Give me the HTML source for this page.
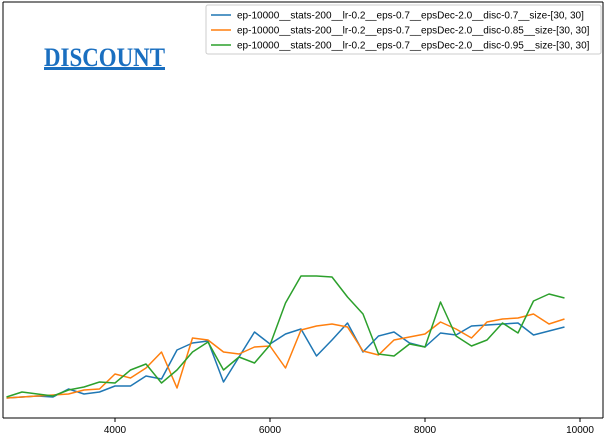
<!DOCTYPE html>
<html><head><meta charset="utf-8"><style>
html,body{margin:0;padding:0;background:#fff;}
svg{display:block;font-family:"Liberation Sans","DejaVu Sans",sans-serif;}
</style></head><body>
<svg id="chart" width="604" height="436" viewBox="0 0 604 436" xmlns="http://www.w3.org/2000/svg">
<rect x="0" y="0" width="604" height="436" fill="#fff"/>
<g id="series"></g>
<g fill="none" stroke="#000" stroke-width="1">
<line x1="3" y1="2" x2="3" y2="418"/>
<line x1="603" y1="2" x2="603" y2="418"/>
<line x1="3" y1="2" x2="603" y2="2"/>
<line x1="3" y1="418" x2="603" y2="418"/>
</g>
<g id="xticks"></g>
<g>
<text x="44" y="66" fill="#1a6fc0" font-family="Liberation Serif, serif" font-weight="bold" font-size="26" textLength="121" lengthAdjust="spacingAndGlyphs">DISCOUNT</text>
<rect x="44" y="67" width="121" height="3" fill="#1a6fc0"/>
</g>
<g id="legend">
<rect x="206" y="5" width="395" height="49" rx="2" fill="#fff" stroke="#ccc" stroke-width="1"/>
</g>
</svg>
<script>
const xValues=[2600,2800,3000,3200,3400,3600,3800,4000,4200,4400,4600,4800,5000,5200,5400,5600,5800,6000,6200,6400,6600,6800,7000,7200,7400,7600,7800,8000,8200,8400,8600,8800,9000,9200,9400,9600,9800];
const disc07=[20,21,22,21,29,24,26,32,32,42,39,68,75,77,36,61,86,74,84,89,62,78,95,66,82,86,75,71,85,83,92,93,94,95,83,87,91];
const disc085=[20,21,22,23,24,28,29,44,40,50,66,30,80,78,66,64,71,72,50,88,92,94,91,67,63,78,81,84,96,89,80,96,99,100,104,94,99];
const disc095=[21,26,24,22,28,31,36,35,48,54,35,48,66,76,48,61,55,73,115,142,142,141,121,104,64,62,74,71,116,82,72,78,95,85,117,124,120];
const xTicks=[4000,6000,8000,10000];
const seriesNames=["ep-10000__stats-200__lr-0.2__eps-0.7__epsDec-2.0__disc-0.7__size-[30, 30]","ep-10000__stats-200__lr-0.2__eps-0.7__epsDec-2.0__disc-0.85__size-[30, 30]","ep-10000__stats-200__lr-0.2__eps-0.7__epsDec-2.0__disc-0.95__size-[30, 30]"];
const colors=["#1f77b4","#ff7f0e","#2ca02c"];
const NS="http://www.w3.org/2000/svg";
function xs(v){return 115+(v-4000)*0.0775;}
function ys(v){return 418-v;}
const series=[disc07,disc085,disc095];
const sg=document.getElementById('series');
series.forEach((s,i)=>{
  const p=document.createElementNS(NS,'polyline');
  p.setAttribute('points',s.map((v,j)=>xs(xValues[j]).toFixed(1)+','+ys(v).toFixed(1)).join(' '));
  p.setAttribute('fill','none');p.setAttribute('stroke',colors[i]);p.setAttribute('stroke-width','1.5');
  p.setAttribute('stroke-linejoin','round');
  
  
  sg.appendChild(p);
});
const xg=document.getElementById('xticks');
xTicks.forEach(t=>{
  const x=xs(t);
  const l=document.createElementNS(NS,'line');
  l.setAttribute('x1',x);l.setAttribute('x2',x);l.setAttribute('y1',418);l.setAttribute('y2',422);l.setAttribute('stroke','#000');
  
  
  xg.appendChild(l);
  const tx=document.createElementNS(NS,'text');
  tx.setAttribute('x',x);tx.setAttribute('y',433);tx.setAttribute('text-anchor','middle');tx.setAttribute('font-size','10');tx.setAttribute('fill','#000');
  tx.textContent=t;
  
  
  xg.appendChild(tx);
});
const lg=document.getElementById('legend');
seriesNames.forEach((n,i)=>{
  const y=15+i*15;
  const l=document.createElementNS(NS,'line');
  l.setAttribute('x1',211);l.setAttribute('x2',231);l.setAttribute('y1',y);l.setAttribute('y2',y);
  l.setAttribute('stroke',colors[i]);l.setAttribute('stroke-width','1.5');
  
  
  lg.appendChild(l);
  const t=document.createElementNS(NS,'text');
  t.setAttribute('x',237);t.setAttribute('y',y+3.5);t.setAttribute('font-size','10');t.setAttribute('fill','#000');
  t.textContent=n;
  
  
  lg.appendChild(t);
});
</script>
</body></html>
